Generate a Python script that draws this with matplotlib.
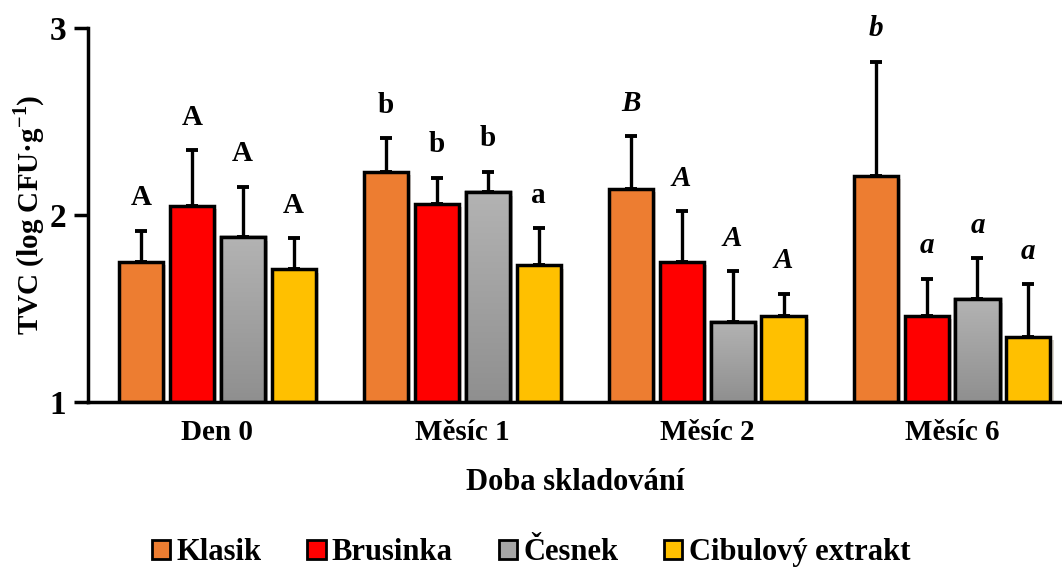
import matplotlib.pyplot as plt
import matplotlib.patheffects as pe
from matplotlib.colors import LinearSegmentedColormap
from matplotlib.patches import Rectangle
import numpy as np

plt.rcParams['font.family'] = ['Liberation Serif', 'DejaVu Serif']
plt.rcParams['font.weight'] = 'bold'
plt.rcParams['mathtext.fontset'] = 'custom'
plt.rcParams['mathtext.bf'] = 'Liberation Serif:bold'
plt.rcParams['mathtext.rm'] = 'Liberation Serif:bold'

periods = ['Den 0', 'Měsíc 1', 'Měsíc 2', 'Měsíc 6']
series = ['Klasik', 'Brusinka', 'Česnek', 'Cibulový extrakt']
colors = ['#ED7D31', '#FF0000', '#A6A6A6', '#FFC000']

# mean TVC per series, one value per period
klasik = [1.75, 2.23, 2.14, 2.21]
brusinka = [2.05, 2.06, 1.75, 1.46]
cesnek = [1.88, 2.12, 1.43, 1.55]
cibule = [1.71, 1.73, 1.46, 1.35]

# upper error (SD)
klasik_err = [0.165, 0.18, 0.28, 0.61]
brusinka_err = [0.295, 0.14, 0.27, 0.20]
cesnek_err = [0.27, 0.11, 0.27, 0.22]
cibule_err = [0.166, 0.20, 0.12, 0.28]

# significance letters
klasik_sig = ['A', 'b', 'B', 'b']
brusinka_sig = ['A', 'b', 'A', 'a']
cesnek_sig = ['A', 'b', 'A', 'a']
cibule_sig = ['A', 'a', 'A', 'a']
italic_period = [False, False, True, True]

values = [klasik, brusinka, cesnek, cibule]
errors = [klasik_err, brusinka_err, cesnek_err, cibule_err]
letters = [klasik_sig, brusinka_sig, cesnek_sig, cibule_sig]

fig = plt.figure(figsize=(10.62, 5.69), dpi=100)
ax = fig.add_axes([0.083, 0.2935, 0.917, 0.6575])

x = np.arange(len(periods))
step = 0.208
width = 0.18
shadow = [pe.SimplePatchShadow(offset=(2.5, -2.5), alpha=0.2), pe.Normal()]
gray_grad = np.linspace(0, 1, 256).reshape(-1, 1)
gray_cmap = LinearSegmentedColormap.from_list('cesnek', ['#8F8F8F', '#B3B3B3'])

for i, name in enumerate(series):
    pos = x + (i - 1.5) * step
    bars = ax.bar(pos, np.array(values[i]) - 1, width, bottom=1,
                  color=colors[i], edgecolor='black', linewidth=2.5,
                  label=name, zorder=2)
    for b in bars:
        b.set_path_effects(shadow)
    ax.errorbar(pos, values[i], yerr=[np.zeros(4), errors[i]], fmt='none',
                ecolor='black', elinewidth=2.4, capsize=4.5, capthick=2.8,
                zorder=1)
    if name == 'Česnek':
        # gradient fill for the grey bars
        for b in bars:
            bx, by = b.get_x(), b.get_y()
            im = ax.imshow(gray_grad, cmap=gray_cmap, origin='lower',
                           aspect='auto', zorder=2.1,
                           extent=(bx, bx + b.get_width(), by, by + b.get_height()))
            im.set_clip_path(b)
            ax.add_patch(Rectangle((bx, by), b.get_width(), b.get_height(),
                                   fill=False, edgecolor='black',
                                   linewidth=2.5, zorder=2.2))
    for j in range(len(periods)):
        ax.annotate(letters[i][j], (pos[j], values[i][j] + errors[i][j]),
                    xytext=(0, 14), textcoords='offset points',
                    ha='center', va='bottom', fontsize=21, fontweight='bold',
                    style='italic' if italic_period[j] else 'normal')

ax.set_xlim(-0.527, 3.449)
ax.set_ylim(1, 3)
ax.set_yticks([1, 2, 3])
ax.set_yticklabels(['1', '2', '3'], fontsize=24, fontweight='bold')
ax.set_xticks(x)
ax.set_xticklabels(periods, fontsize=21, fontweight='bold')
ax.tick_params(axis='x', length=0, pad=12)
ax.tick_params(axis='y', length=10, width=2.5, pad=6)
for side in ['top', 'right']:
    ax.spines[side].set_visible(False)
for side in ['left', 'bottom']:
    ax.spines[side].set_linewidth(2.5)

ax.set_xlabel('Doba skladování', fontsize=22, fontweight='bold', labelpad=16)
ax.set_ylabel('TVC (log CFU·g$^{\\mathbf{-1}}$)', fontsize=21,
              fontweight='bold', labelpad=2)

handles, labels = ax.get_legend_handles_labels()
leg = fig.legend(handles, labels, loc='lower center', ncol=4, frameon=False,
                 bbox_to_anchor=(0.5, -0.045), fontsize=22, handlelength=0.6,
                 handleheight=0.6, handletextpad=0.2, columnspacing=1.5)
for h in leg.legend_handles:
    h.set_linewidth(2)
    h.set_path_effects([])

fig.savefig('out.png', dpi=100)
